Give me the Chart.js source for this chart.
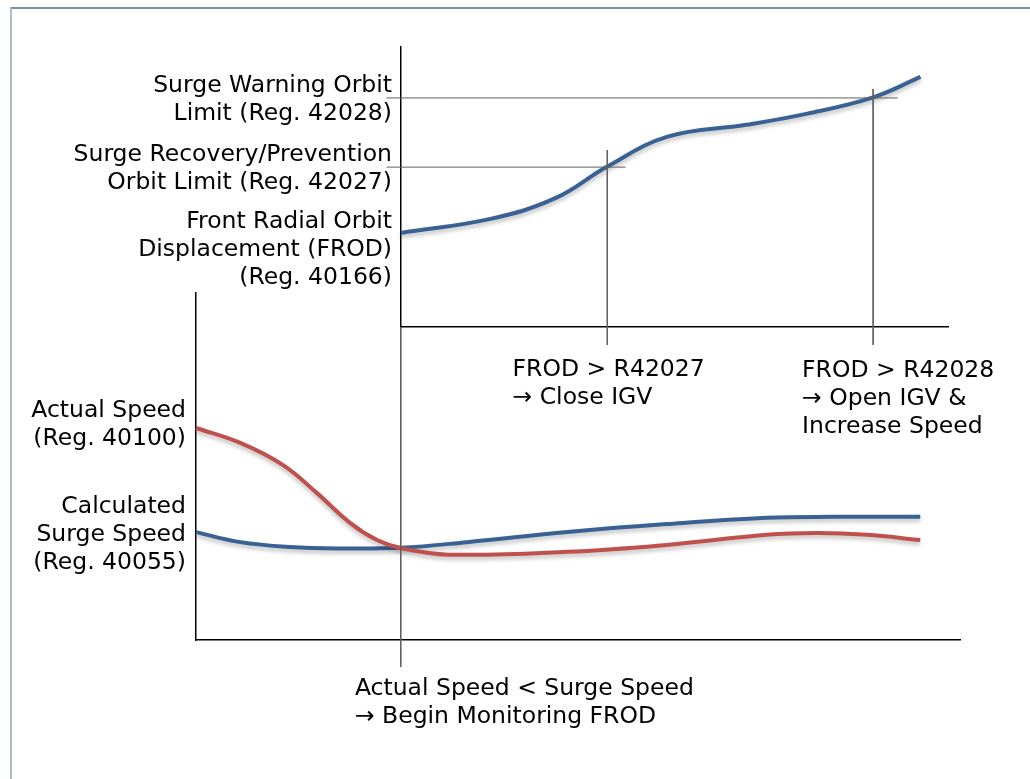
<!DOCTYPE html>
<html>
<head>
<meta charset="utf-8">
<script src="https://cdn.jsdelivr.net/npm/chart.js@4/dist/chart.umd.min.js"></script>
<style>
  body { margin: 0; background: #fff; }
  #frame {
    position: absolute; left: 10px; top: 7px; width: 1030px; height: 790px;
    border-top: 2px solid #7393a6; border-left: 2px solid #abbdca;
  }
  canvas { position: absolute; left: 0; top: 0; }
</style>
</head>
<body>
<div id="frame"></div>
<canvas id="frodChart" width="1030" height="779"></canvas>
<canvas id="speedChart" width="1030" height="779"></canvas>
<script>
// time axis is shared by both panels (arbitrary units)
const frodTime = [26.8, 38.5, 47.0, 53.8, 61.6, 72.0, 80.0, 88.6, 94.8];
const frodValues = [33.6, 38.6, 46.0, 57.3, 67.9, 72.2, 76.2, 82.0, 89.3];

const speedTime = [0, 5.8, 11.4, 15.8, 20.2, 23.7, 26.8, 33.0, 48.6, 61.6, 74.7, 81.3, 87.8, 94.8];
const actualSpeed = [61.1, 56.8, 50.4, 42.4, 33.7, 28.8, 26.5, 24.6, 25.4, 27.4, 30.3, 30.8, 30.3, 28.8];

const surgeTime = [0, 5.8, 12.3, 18.8, 26.8, 35.5, 48.6, 61.6, 74.7, 83.4, 94.8];
const surgeSpeed = [31.1, 28.2, 26.8, 26.4, 26.6, 28.2, 31.1, 33.4, 35.2, 35.5, 35.5];

// limits and event times
const reg42028 = 81.8;
const reg42027 = 57.1;
const monitorTime = 26.8;
const closeIgvTime = 53.8;
const openIgvTime = 88.6;

const BLUE = '#3a6194';
const RED = '#c0504d';
const GUIDE = '#5f5f5f';
const LINE_H = 28;

function toPoints(xs, ys) {
    return xs.map((x, i) => ({ x: x, y: ys[i] }));
}

function curve(xs, ys, color) {
    return {
        data: toPoints(xs, ys),
        showLine: true,
        borderColor: color,
        borderWidth: 4,
        pointRadius: 0,
        tension: 0.4,
        clip: false,
        shadow: true
    };
}

function guide(points) {
    return {
        data: points,
        showLine: true,
        borderColor: GUIDE,
        borderWidth: 1,
        pointRadius: 0,
        clip: false
    };
}

function axis(min, max) {
    return {
        type: 'linear',
        min: min,
        max: max,
        grid: { display: false, drawTicks: false },
        ticks: { display: false },
        border: { display: true, color: '#000', width: 1.5 }
    };
}

// soft drop shadow under the curves
const shadowPlugin = {
    id: 'curveShadow',
    beforeDatasetDraw(chart, args) {
        const ctx = chart.ctx;
        ctx.save();
        if (args.meta._dataset.shadow) {
            ctx.shadowColor = 'rgba(0,0,0,0.25)';
            ctx.shadowBlur = 4;
            ctx.shadowOffsetY = 3;
        }
    },
    afterDatasetDraw(chart) {
        chart.ctx.restore();
    }
};

// text notes placed in data coordinates
const notesPlugin = {
    id: 'notes',
    afterDraw(chart, args, opts) {
        const { ctx, scales } = chart;
        ctx.save();
        ctx.font = '23.5px "DejaVu Sans"';
        ctx.fillStyle = '#000';
        ctx.textBaseline = 'middle';
        opts.items.forEach(n => {
            const px = scales.x.getPixelForValue(n.x);
            const py = scales.y.getPixelForValue(n.y);
            const top = py - (n.lines.length - 1) * LINE_H / 2;
            ctx.textAlign = n.align;
            n.lines.forEach((s, i) => ctx.fillText(s, px, top + i * LINE_H));
        });
        ctx.restore();
    }
};

const commonOptions = {
    responsive: false,
    animation: false,
    events: [],
    plugins: { legend: { display: false }, tooltip: { enabled: false } }
};

new Chart(document.getElementById('frodChart'), {
    type: 'scatter',
    data: {
        datasets: [
            guide([{ x: 24.9, y: reg42028 }, { x: 91.8, y: reg42028 }]),
            guide([{ x: 24.9, y: reg42027 }, { x: 56.2, y: reg42027 }]),
            guide([{ x: closeIgvTime, y: 63.2 }, { x: closeIgvTime, y: -6.4 }]),
            guide([{ x: openIgvTime, y: 85 }, { x: openIgvTime, y: -6.4 }]),
            curve(frodTime, frodValues, BLUE)
        ]
    },
    options: Object.assign({}, commonOptions, {
        layout: { padding: { left: 401, top: 47, right: 82, bottom: 452 } },
        scales: { x: axis(26.8, 98.4), y: axis(0, 100) },
        plugins: Object.assign({}, commonOptions.plugins, {
            notes: {
                items: [
                    { x: 25.62, y: 81.2, align: 'right', lines: ['Surge Warning Orbit', 'Limit (Reg. 42028)'] },
                    { x: 25.62, y: 56.6, align: 'right', lines: ['Surge Recovery/Prevention', 'Orbit Limit (Reg. 42027)'] },
                    { x: 25.62, y: 27.5, align: 'right', lines: ['Front Radial Orbit', 'Displacement (FROD)', '(Reg. 40166)'] },
                    { x: 41.4, y: -20.3, align: 'left', lines: ['FROD > R42027', '\u2192 Close IGV'] },
                    { x: 79.3, y: -25.7, align: 'left', lines: ['FROD > R42028', '\u2192 Open IGV &', 'Increase Speed'] }
                ]
            }
        })
    }),
    plugins: [shadowPlugin, notesPlugin]
});

new Chart(document.getElementById('speedChart'), {
    type: 'scatter',
    data: {
        datasets: [
            guide([{ x: monitorTime, y: 90.2 }, { x: monitorTime, y: -7.8 }]),
            curve(speedTime, actualSpeed, RED),
            curve(surgeTime, surgeSpeed, BLUE)
        ]
    },
    options: Object.assign({}, commonOptions, {
        layout: { padding: { left: 196, top: 293, right: 70, bottom: 139 } },
        scales: { x: axis(0, 100), y: axis(0, 100) },
        plugins: Object.assign({}, commonOptions.plugins, {
            notes: {
                items: [
                    { x: -1.31, y: 62.0, align: 'right', lines: ['Actual Speed', '(Reg. 40100)'] },
                    { x: -1.31, y: 30.2, align: 'right', lines: ['Calculated', 'Surge Speed', '(Reg. 40055)'] },
                    { x: 20.8, y: -18.2, align: 'left', lines: ['Actual Speed < Surge Speed', '\u2192 Begin Monitoring FROD'] }
                ]
            }
        })
    }),
    plugins: [shadowPlugin, notesPlugin]
});
</script>
</body>
</html>
